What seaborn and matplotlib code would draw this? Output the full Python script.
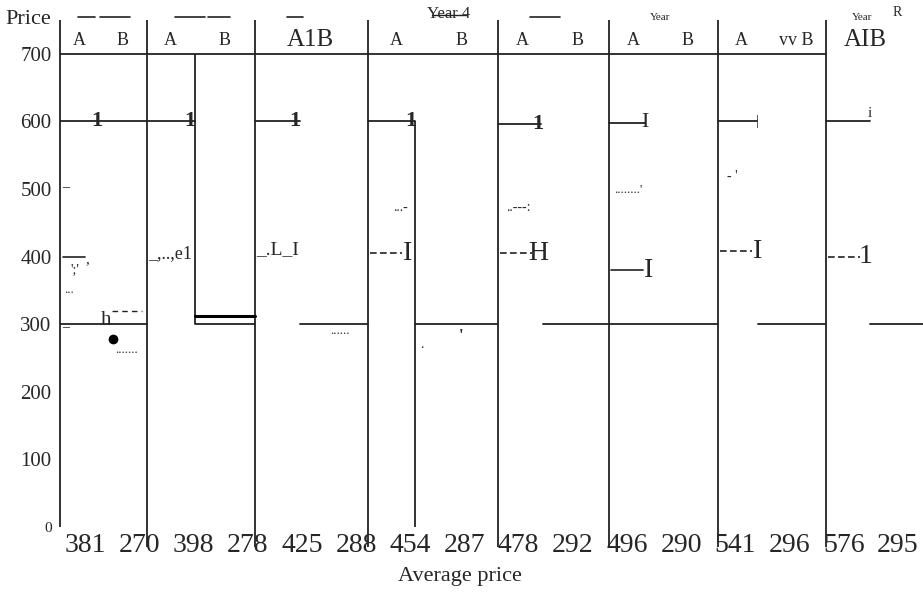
"""
Average price of A and B by year (redrawn from a scanned figure)
"""
import pandas as pd
import matplotlib
matplotlib.use('Agg')
import matplotlib.pyplot as plt
import seaborn as sns

years = ['Year 1', 'Year 2', 'Year 3', 'Year 4', 'Year 5', 'Year 6', 'Year 7', 'Year 8']
price_a = [381, 398, 425, 454, 478, 496, 541, 576]
price_b = [270, 278, 288, 287, 292, 290, 296, 295]

# levels of the horizontal rules as they appear in the scan
level_a = [600, 600, 600, 600, 596, 598, 600, 600]
level_b = [300, 300, 300, 300, 300, 300, 300, 300]
mark_level = [400, 400, 400, 405, 405, 380, 408, 400]
glyph_a = ['1', '1', '1', '1', '1', 'I', '|', 'i']
glyph_mark = [',', 'e1', 'I', 'I', 'H', 'I', 'I', '1']

W, H = 923, 594
sns.set_theme(style='white')
plt.rcParams['font.family'] = ['Liberation Serif', 'DejaVu Serif']

fig = plt.figure(figsize=(W / 100, H / 100), dpi=100)
ax = fig.add_axes([60 / W, (H - 527) / H, (W - 60) / W, (527 - 20) / H])

# panel layout (pixel based x units)
edges = [60, 147, 255, 368, 498, 609, 718, 826, 923]
split = [147, 195, 300, 415, 541, 645, 757, 870]
b_start = [60, 195, 300, 415, 543, 609, 758, 870]
glyph_x = [97, 190, 295, 411, 538, 645, 757, 870]

ax.set_xlim(60, 923)
ax.set_ylim(0, 750)

def py(p):
    # figure pixel row -> data y
    return (527 - p) / (473 / 700)

# horizontal rules drawn through seaborn
rows = []
for i in range(len(years)):
    rows.append(dict(x=edges[i], y=level_a[i], seg=f'a{i}'))
    rows.append(dict(x=split[i], y=level_a[i], seg=f'a{i}'))
    rows.append(dict(x=b_start[i], y=level_b[i], seg=f'b{i}'))
    rows.append(dict(x=edges[i + 1], y=level_b[i], seg=f'b{i}'))
segs = pd.DataFrame(rows)
sns.lineplot(data=segs, x='x', y='y', units='seg', estimator=None, sort=False,
             color='#222222', lw=1.3, ax=ax, legend=False)

# header rule at 700
ax.plot([60, 826], [700, 700], color='#222222', lw=1.3)

# panel separators
ax.vlines(edges[1:-1], py(547), 750, color='#222222', lw=1.3, clip_on=False)
ax.vlines([195], 300, 700, color='#222222', lw=1.3)
ax.vlines([415], 0, 600, color='#222222', lw=1.3)
ax.plot([195, 255], [312, 312], color='black', lw=2.2)
ax.vlines([60], 0, 750, color='#222222', lw=1.3, clip_on=False)

# glyphs at the A rules
for i, g in enumerate(glyph_a):
    yy = level_a[i] + (12 if g == 'i' else 0)
    ax.text(glyph_x[i], yy, g, ha='center', va='center',
            fontsize=16 if i < 6 else 11, fontweight='bold' if i < 5 else 'normal')

# dashed markers near 400
for i in range(len(years)):
    x0 = edges[i]
    if i >= 3:
        ax.plot([x0 + 2, x0 + 34], [mark_level[i]] * 2, color='#222222', lw=1.2,
                ls=(0, (4, 2)) if i != 5 else '-')
        ax.text(x0 + 40, mark_level[i], glyph_mark[i], ha='center', va='center', fontsize=20)
    elif i == 0:
        ax.plot([x0 + 3, x0 + 25], [400, 400], color='#222222', lw=1.2)
        ax.text(x0 + 27, 395, glyph_mark[i], ha='center', va='center', fontsize=11)
        ax.text(x0 + 15, 380, "';'", ha='center', va='center', fontsize=10)
        ax.text(x0 + 9, 350, '...', ha='center', va='center', fontsize=9)
    elif i == 1:
        ax.text(x0 + 1, 405, '_,..,' + glyph_mark[i], ha='left', va='center', fontsize=13)
    else:
        ax.text(x0 + 1, 410, '_.L_' + glyph_mark[i], ha='left', va='center', fontsize=14)

# small scan debris
ax.text(62, 500, '_', fontsize=10, va='bottom')
ax.text(62, 292, '_', fontsize=10, va='bottom')
ax.text(101, 305, 'h', fontsize=15, va='center')
ax.plot([112, 142], [320, 320], color='#222222', lw=1, ls=(0, (4, 3)))
ax.plot([113], [278], 'o', color='black', ms=6)
ax.text(127, 262, '.......', fontsize=9, ha='center', va='center')
ax.text(340, 290, '......', fontsize=9, ha='center', va='center')
ax.text(422, 270, '.', fontsize=10, ha='center', va='center')
ax.text(461, 282, "'", fontsize=12, ha='center', va='center', fontweight='bold')
ax.text(400, 472, '...-', fontsize=10, ha='center', va='center')
ax.text(518, 472, '..---:', fontsize=10, ha='center', va='center')
ax.text(628, 498, "........'", fontsize=9, ha='center', va='center')
ax.text(732, 518, "- '", fontsize=10, ha='center', va='center')

# column headers
for i in range(len(years)):
    left, w = edges[i], edges[i + 1] - edges[i]
    if i == 2:
        ax.text(left + 0.49 * w, 720, 'A1B', ha='center', va='center', fontsize=18)
    elif i == 7:
        ax.text(left + 0.41 * w, 720, 'AIB', ha='center', va='center', fontsize=18)
    else:
        ax.text(left + 0.22 * w, 720, 'A', ha='center', va='center', fontsize=13)
        lab = 'vv B' if i == 6 else 'B'
        ax.text(left + 0.72 * w, 720, lab, ha='center', va='center', fontsize=13)

# year titles (mostly lost in the scan)
ty = py(17)
for xa, xb in [(78, 95), (100, 130), (175, 205), (208, 230), (287, 303), (530, 560)]:
    ax.plot([xa, xb], [ty, ty], color='#222222', lw=1.2, clip_on=False)
ax.text(449, py(14), years[3], ha='center', va='center', fontsize=12)
ax.plot([432, 466], [py(15), py(15)], color='#222222', lw=1, clip_on=False)
ax.text(660, py(18), 'Year', ha='center', va='center', fontsize=8)
ax.text(862, py(18), 'Year', ha='center', va='center', fontsize=8)
ax.text(897, py(13), 'R', ha='center', va='center', fontsize=10)

# axes styling
sns.despine(ax=ax, left=True, bottom=True)
ax.set_xticks([])
ax.set_yticks(range(0, 701, 100))
ax.set_yticklabels([str(v) for v in range(0, 701, 100)], fontsize=15)
ax.tick_params(axis='y', length=0, pad=6)
ax.get_yticklabels()[0].set_fontsize(11)
ax.set_xlabel('')
ax.set_ylabel('')

fig.text(5 / W, 1 - 20 / H, 'Price', ha='left', va='center', fontsize=16)

# average prices printed along the bottom, A then B for each year
values = [v for pair in zip(price_a, price_b) for v in pair]
for k, v in enumerate(values):
    fig.text((85 + k * 54.2) / W, 1 - 546 / H, str(v), ha='center', va='center', fontsize=20)
fig.text(460 / W, 1 - 576 / H, 'Average price', ha='center', va='center', fontsize=16)

fig.savefig('out.png', dpi=100)
